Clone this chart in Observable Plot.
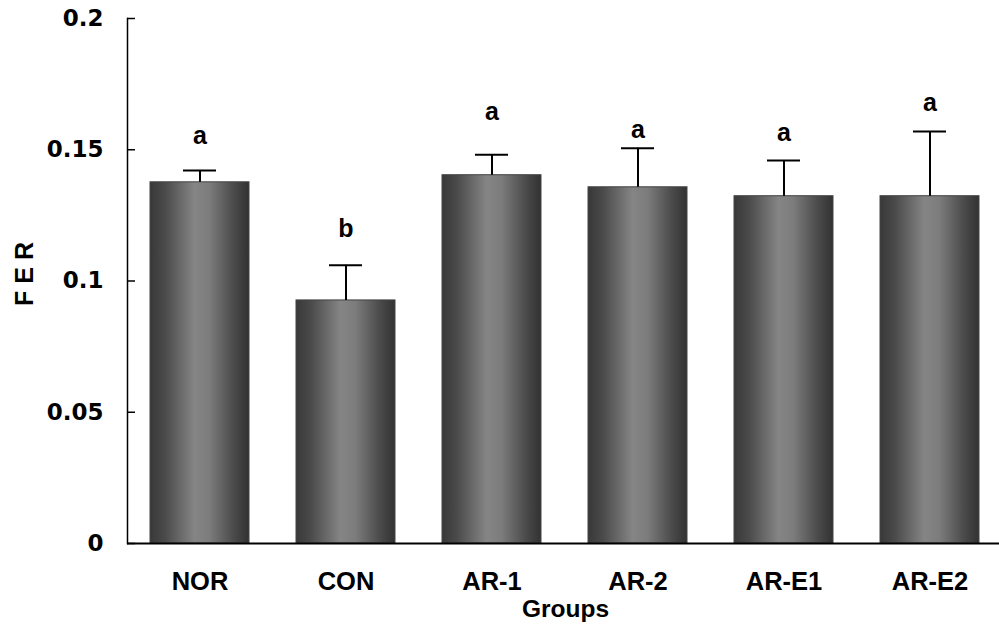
<!DOCTYPE html>
<html><head><meta charset="utf-8">
<script src="https://cdn.jsdelivr.net/npm/d3@7"></script>
<script src="https://cdn.jsdelivr.net/npm/@observablehq/plot@0.6"></script>
<style>body{margin:0;background:#fff;overflow:hidden}</style>
</head><body><div id="chart"></div>
<script>
const groups = ["NOR", "CON", "AR-1", "AR-2", "AR-E1", "AR-E2"];
const fer = [0.1376, 0.0926, 0.1403, 0.1357, 0.1323, 0.1323];
const sd = [0.0045, 0.0134, 0.0078, 0.0149, 0.0136, 0.0247];
const letters = ["a", "b", "a", "a", "a", "a"];
const letterY = [0.1554, 0.1200, 0.1642, 0.1577, 0.1562, 0.1680];
const yTicks = [0, 0.05, 0.1, 0.15, 0.2];

const data = groups.map((g, i) => ({group: g, fer: fer[i], top: fer[i] + sd[i], letter: letters[i], ly: letterY[i]}));

const defs = () => {
  const ns = "http://www.w3.org/2000/svg";
  const d = document.createElementNS(ns, "defs");
  const g = document.createElementNS(ns, "linearGradient");
  g.setAttribute("id", "barGrad");
  g.setAttribute("x1", "0"); g.setAttribute("y1", "0");
  g.setAttribute("x2", "1"); g.setAttribute("y2", "0");
  [[0, "#383838"], [0.15, "#4a4a4a"], [0.45, "#858585"], [0.6, "#7c7c7c"], [0.85, "#4a4a4a"], [1, "#323232"]].forEach(([o, c]) => {
    const s = document.createElementNS(ns, "stop");
    s.setAttribute("offset", o);
    s.setAttribute("stop-color", c);
    g.appendChild(s);
  });
  d.appendChild(g);
  return d;
};

const sans = "Liberation Sans, Arial, sans-serif";

const chart = Plot.plot({
  width: 999,
  height: 627,
  marginLeft: 127,
  marginRight: -4,
  marginTop: 18,
  marginBottom: 84,
  style: {fontFamily: sans, fontWeight: "bold", color: "#000", background: "#fff"},
  x: {domain: groups, paddingInner: 0.32, paddingOuter: 0.16, label: null},
  y: {domain: [0, 0.2], label: null},
  marks: [
    defs,
    Plot.barY(data, {x: "group", y: "fer", fill: "url(#barGrad)", stroke: "#444", strokeWidth: 1}),
    Plot.ruleX(data, {x: "group", y1: "fer", y2: "top", stroke: "#000", strokeWidth: 2}),
    Plot.tickY(data, {x: "group", y: "top", stroke: "#000", strokeWidth: 2, inset: 66}),
    Plot.text(data, {x: "group", y: "ly", text: "letter", fontSize: 25, fontWeight: "bold", fontFamily: sans, fill: "#000"}),
    Plot.axisY({ticks: yTicks, tickSize: 8, dx: 8, tickFormat: () => "", strokeWidth: 1.5, label: null}),
    Plot.axisY({ticks: yTicks, tickSize: 0, tickPadding: 24, tickFormat: d => String(d), fontSize: 23, fontFamily: "DejaVu Sans", fontWeight: "bold", label: null}),
    Plot.frame({anchor: "left", strokeWidth: 1.5}),
    Plot.ruleY([0], {strokeWidth: 2}),
    Plot.axisX({tickSize: 0, tickPadding: 28, fontSize: 25.5, fontFamily: sans, fontWeight: "bold", label: null}),
    Plot.text(["F E R"], {frameAnchor: "left", dx: -103, dy: -7, rotate: -90, textAnchor: "middle", lineAnchor: "middle", fontSize: 25, fontFamily: sans, fontWeight: "bold"}),
    Plot.text(["Groups"], {frameAnchor: "bottom", dy: 66, textAnchor: "middle", lineAnchor: "middle", fontSize: 24.5, fontFamily: sans, fontWeight: "bold"})
  ]
});
document.getElementById("chart").appendChild(chart);
</script>
</body></html>
